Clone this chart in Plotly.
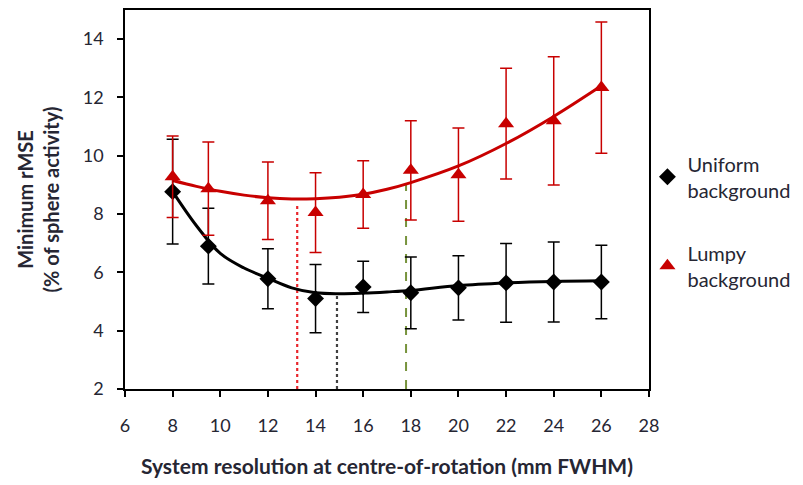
import plotly.graph_objects as go

# ---- data ----
resolution = [8, 9.5, 12, 14, 16, 18, 20, 22, 24, 26]

uniform_rmse = [8.77, 6.9, 5.78, 5.1, 5.5, 5.3, 5.47, 5.64, 5.67, 5.67]
uniform_err = [1.8, 1.3, 1.03, 1.17, 0.88, 1.23, 1.1, 1.35, 1.37, 1.26]

lumpy_rmse = [9.28, 8.87, 8.46, 8.05, 8.67, 9.5, 9.35, 11.1, 11.2, 12.34]
lumpy_err = [1.4, 1.6, 1.33, 1.37, 1.16, 1.7, 1.6, 1.9, 2.2, 2.25]

# fitted trend curves
trend_x = [8, 9, 10, 11, 12, 13, 14, 15, 16, 17, 18, 20, 22, 24, 26]
uniform_trend = [8.77, 7.6, 6.65, 6.15, 5.8, 5.47, 5.3, 5.27, 5.29, 5.33, 5.38, 5.55, 5.64, 5.69, 5.71]
lumpy_trend = [9.15, 8.95, 8.78, 8.65, 8.56, 8.52, 8.53, 8.58, 8.68, 8.85, 9.08, 9.65, 10.42, 11.35, 12.4]

# optimum markers (vertical lines): x position and top value
opt_lumpy_x, opt_lumpy_top = 13.23, 8.38
opt_uniform_x, opt_uniform_top = 14.9, 5.27
opt_green_x, opt_green_top = 17.8, 9.0

xticks = [6, 8, 10, 12, 14, 16, 18, 20, 22, 24, 26, 28]
yticks = [2, 4, 6, 8, 10, 12, 14]

RED = "#C80000"
BLACK = "#000000"
GREEN = "#77933C"
FONT = "Lato, 'Open Sans', sans-serif"
TXT = "#262633"

fig = go.Figure()

# vertical optimum lines
fig.add_trace(go.Scatter(x=[opt_lumpy_x, opt_lumpy_x], y=[2, opt_lumpy_top], mode="lines",
                         line=dict(color="#E8252B", width=2.2, dash="dot"), showlegend=False, hoverinfo="skip"))
fig.add_trace(go.Scatter(x=[opt_uniform_x, opt_uniform_x], y=[2, opt_uniform_top], mode="lines",
                         line=dict(color="#404040", width=2.2, dash="dot"), showlegend=False, hoverinfo="skip"))
fig.add_trace(go.Scatter(x=[opt_green_x, opt_green_x], y=[2, opt_green_top], mode="lines",
                         line=dict(color=GREEN, width=2, dash="dash"), showlegend=False, hoverinfo="skip"))

# trend lines
fig.add_trace(go.Scatter(x=trend_x, y=lumpy_trend, mode="lines", line=dict(color=RED, width=3, shape="spline"),
                         showlegend=False, hoverinfo="skip"))
fig.add_trace(go.Scatter(x=trend_x, y=uniform_trend, mode="lines", line=dict(color=BLACK, width=3, shape="spline"),
                         showlegend=False, hoverinfo="skip"))

# data points
fig.add_trace(go.Scatter(x=resolution, y=uniform_rmse, mode="markers", name="Uniform<br>background",
                         marker=dict(symbol="diamond", size=13, color=BLACK),
                         error_y=dict(type="data", array=uniform_err, color=BLACK, thickness=1.5, width=6),
                         legend="legend"))
fig.add_trace(go.Scatter(x=resolution, y=lumpy_rmse, mode="markers", name="Lumpy<br>background",
                         marker=dict(symbol="triangle-up", size=14, color=RED),
                         error_y=dict(type="data", array=lumpy_err, color=RED, thickness=1.5, width=6),
                         legend="legend2"))

axis_common = dict(showline=True, linecolor="#000", linewidth=1.5, mirror=True, showgrid=False, zeroline=False,
                   ticks="outside", ticklen=6, tickwidth=1.5, tickcolor="#000",
                   tickfont=dict(family=FONT, size=18, color=TXT))

legend_style = dict(font=dict(family=FONT, size=20, color=TXT), bgcolor="rgba(0,0,0,0)",
                    xanchor="left", yanchor="middle", itemsizing="trace", itemwidth=30)

fig.update_layout(
    width=795, height=477,
    margin=dict(l=117, r=154, t=0, b=96),
    plot_bgcolor="white", paper_bgcolor="white",
    xaxis=dict(range=[6, 28], tickvals=xticks, ticklabelstandoff=14, **axis_common,
               title=dict(text="<b>System resolution at centre-of-rotation (mm FWHM)</b>",
                          font=dict(family=FONT, size=21, color=TXT), standoff=24)),
    yaxis=dict(range=[2, 15], tickvals=yticks, ticklabelstandoff=10, **axis_common,
               title=dict(text="<b>Minimum rMSE<br>(% of sphere activity)</b>",
                          font=dict(family=FONT, size=20, color=TXT), standoff=18)),
    legend=dict(x=0.997, y=0.56, **legend_style),
    legend2=dict(x=0.997, y=0.325, **legend_style),
)

fig.write_html("out.html")
